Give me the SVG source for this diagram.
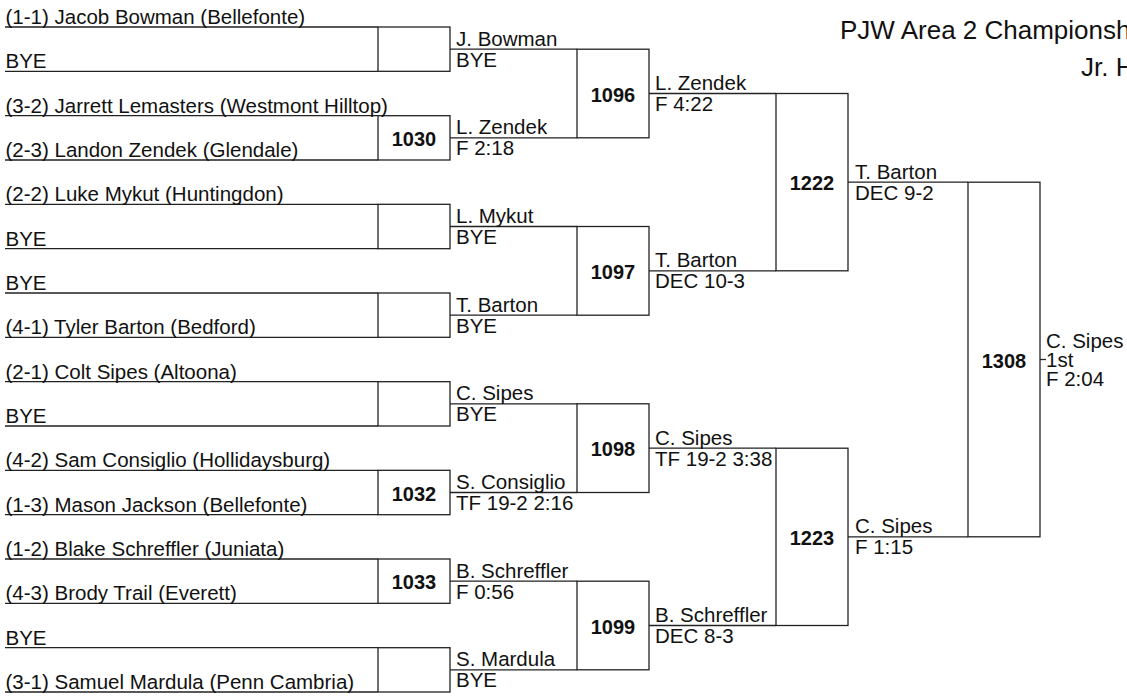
<svg xmlns="http://www.w3.org/2000/svg" width="1127" height="698" viewBox="0 0 1127 698">
<style>
text{font-family:"Liberation Sans",Arial,sans-serif;fill:#111;}
.t{font-size:20.5px;}
.n{font-size:20px;font-weight:bold;text-anchor:middle;}
.h{font-size:26px;}
.ln{stroke:#222;stroke-width:1.3;fill:none;}
.bx{stroke:#222;stroke-width:1.3;fill:none;}
</style>
<rect width="1127" height="698" fill="#fff"/>
<g id="title">
<text class="h" x="840" y="39">PJW Area 2 Championsh</text>
<text class="h" x="1081" y="76">Jr. H</text>
</g>
<g id="connectors" class="ln">
<path d="M5 27H378M5 71.3H378M5 115.7H378M5 160H378M5 204.3H378M5 248.7H378M5 293H378M5 337.3H378M5 381.7H378M5 426H378M5 470.3H378M5 514.7H378M5 559H378M5 603.3H378M5 647.7H378M5 692H378"/>
<path d="M450 49.2H577M450 137.8H577M450 226.5H577M450 315.2H577M450 403.8H577M450 492.5H577M450 581.2H577M450 669.8H577"/>
<path d="M649 93.5H776M649 270.8H776M649 448.2H776M649 625.5H776"/>
<path d="M848 182.2H968M848 536.8H968"/>
<path d="M1040 359.5H1046"/>
</g>
<g id="m1">
<rect class="bx" x="378" y="27" width="72" height="44.3"/>
</g>
<g id="m1030">
<rect class="bx" x="378" y="115.7" width="72" height="44.3"/>
<text class="n" x="414" y="146">1030</text>
</g>
<g id="m3">
<rect class="bx" x="378" y="204.3" width="72" height="44.4"/>
</g>
<g id="m4">
<rect class="bx" x="378" y="293" width="72" height="44.3"/>
</g>
<g id="m5">
<rect class="bx" x="378" y="381.7" width="72" height="44.3"/>
</g>
<g id="m1032">
<rect class="bx" x="378" y="470.3" width="72" height="44.4"/>
<text class="n" x="414" y="500.5">1032</text>
</g>
<g id="m1033">
<rect class="bx" x="378" y="559" width="72" height="44.3"/>
<text class="n" x="414" y="589.2">1033</text>
</g>
<g id="m8">
<rect class="bx" x="378" y="647.7" width="72" height="44.3"/>
</g>
<g id="m1096">
<rect class="bx" x="577" y="49.2" width="72" height="88.6"/>
<text class="n" x="613" y="101.5">1096</text>
</g>
<g id="m1097">
<rect class="bx" x="577" y="226.5" width="72" height="88.7"/>
<text class="n" x="613" y="278.8">1097</text>
</g>
<g id="m1098">
<rect class="bx" x="577" y="403.8" width="72" height="88.7"/>
<text class="n" x="613" y="456.2">1098</text>
</g>
<g id="m1099">
<rect class="bx" x="577" y="581.2" width="72" height="88.6"/>
<text class="n" x="613" y="633.5">1099</text>
</g>
<g id="m1222">
<rect class="bx" x="776" y="93.5" width="72" height="177.3"/>
<text class="n" x="812" y="190.2">1222</text>
</g>
<g id="m1223">
<rect class="bx" x="776" y="448.2" width="72" height="177.3"/>
<text class="n" x="812" y="544.8">1223</text>
</g>
<g id="m1308">
<rect class="bx" x="968" y="182.2" width="72" height="354.6"/>
<text class="n" x="1004" y="367.5">1308</text>
</g>
<g id="entrants">
<text class="t" x="5.5" y="24">(1-1) Jacob Bowman (Bellefonte)</text>
<text class="t" x="5.5" y="68.3">BYE</text>
<text class="t" x="5.5" y="112.7">(3-2) Jarrett Lemasters (Westmont Hilltop)</text>
<text class="t" x="5.5" y="157">(2-3) Landon Zendek (Glendale)</text>
<text class="t" x="5.5" y="201.3">(2-2) Luke Mykut (Huntingdon)</text>
<text class="t" x="5.5" y="245.7">BYE</text>
<text class="t" x="5.5" y="290">BYE</text>
<text class="t" x="5.5" y="334.3">(4-1) Tyler Barton (Bedford)</text>
<text class="t" x="5.5" y="378.7">(2-1) Colt Sipes (Altoona)</text>
<text class="t" x="5.5" y="423">BYE</text>
<text class="t" x="5.5" y="467.3">(4-2) Sam Consiglio (Hollidaysburg)</text>
<text class="t" x="5.5" y="511.7">(1-3) Mason Jackson (Bellefonte)</text>
<text class="t" x="5.5" y="556">(1-2) Blake Schreffler (Juniata)</text>
<text class="t" x="5.5" y="600.3">(4-3) Brody Trail (Everett)</text>
<text class="t" x="5.5" y="644.7">BYE</text>
<text class="t" x="5.5" y="689">(3-1) Samuel Mardula (Penn Cambria)</text>
</g>
<g id="round2">
<text class="t" x="456" y="45.7">J. Bowman</text>
<text class="t" x="456" y="66.7">BYE</text>
<text class="t" x="456" y="134.3">L. Zendek</text>
<text class="t" x="456" y="155.3">F 2:18</text>
<text class="t" x="456" y="223">L. Mykut</text>
<text class="t" x="456" y="244">BYE</text>
<text class="t" x="456" y="311.7">T. Barton</text>
<text class="t" x="456" y="332.7">BYE</text>
<text class="t" x="456" y="400.3">C. Sipes</text>
<text class="t" x="456" y="421.3">BYE</text>
<text class="t" x="456" y="489">S. Consiglio</text>
<text class="t" x="456" y="510">TF 19-2 2:16</text>
<text class="t" x="456" y="577.7">B. Schreffler</text>
<text class="t" x="456" y="598.7">F 0:56</text>
<text class="t" x="456" y="666.3">S. Mardula</text>
<text class="t" x="456" y="687.3">BYE</text>
</g>
<g id="round3">
<text class="t" x="655" y="90">L. Zendek</text>
<text class="t" x="655" y="111">F 4:22</text>
<text class="t" x="655" y="267.3">T. Barton</text>
<text class="t" x="655" y="288.3">DEC 10-3</text>
<text class="t" x="655" y="444.7">C. Sipes</text>
<text class="t" x="655" y="465.7">TF 19-2 3:38</text>
<text class="t" x="655" y="622">B. Schreffler</text>
<text class="t" x="655" y="643">DEC 8-3</text>
</g>
<g id="round4">
<text class="t" x="855" y="178.7">T. Barton</text>
<text class="t" x="855" y="199.7">DEC 9-2</text>
<text class="t" x="855" y="533.3">C. Sipes</text>
<text class="t" x="855" y="554.3">F 1:15</text>
</g>
<g id="champion">
<text class="t" x="1046" y="347.7">C. Sipes</text>
<text class="t" x="1046" y="366.7">1st</text>
<text class="t" x="1046" y="385.7">F 2:04</text>
</g>
</svg>
